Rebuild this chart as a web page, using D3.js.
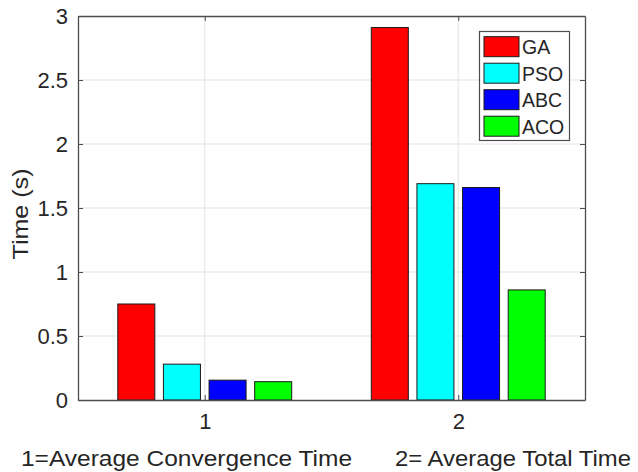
<!DOCTYPE html>
<html>
<head>
<meta charset="utf-8">
<script src="https://cdn.jsdelivr.net/npm/d3@7"></script>
<style>
  html, body { margin: 0; padding: 0; background: #ffffff; }
  svg { display: block; font-family: "Liberation Sans", Arial, sans-serif; }
</style>
</head>
<body>
<svg id="chart" width="638" height="472"></svg>
<script>
const categories = [1, 2];
const seriesNames = ["GA", "PSO", "ABC", "ACO"];
const seriesColors = ["#ff0000", "#00ffff", "#0000ff", "#00ff00"];
const GA  = [0.75, 2.91];
const PSO = [0.28, 1.69];
const ABC = [0.155, 1.66];
const ACO = [0.143, 0.86];
const seriesValues = [GA, PSO, ABC, ACO];
const yTicks = [0, 0.5, 1, 1.5, 2, 2.5, 3];
const yTickLabels = ["0", "0.5", "1", "1.5", "2", "2.5", "3"];
const xTickLabels = ["1", "2"];
const yLabel = "Time (s)";
const footnotes = ["1=Average Convergence Time", "2= Average Total Time"];

const svg = d3.select("#chart");
const L = 78, R = 585, T = 16, B = 400;
const x = d3.scaleLinear().domain([0.5, 2.5]).range([L, R]);
const y = d3.scaleLinear().domain([0, 3]).range([B, T]);
const axisColor = "#4d4d4d";
const textColor = "#262626";

// grid
svg.append("g").selectAll("line.gy").data(yTicks.slice(1, -1)).join("line")
  .attr("x1", L).attr("x2", R).attr("y1", d => y(d)).attr("y2", d => y(d))
  .attr("stroke", "#e3e3e3").attr("stroke-width", 1);
svg.append("g").selectAll("line.gx").data(categories).join("line")
  .attr("x1", d => x(d)).attr("x2", d => x(d)).attr("y1", T).attr("y2", B)
  .attr("stroke", "#e3e3e3").attr("stroke-width", 1);

// bars
const offsets = [-0.27, -0.09, 0.09, 0.27];
const bw = 0.146;
seriesValues.forEach((vals, si) => {
  svg.append("g").selectAll("rect").data(vals).join("rect")
    .attr("x", (d, i) => x(categories[i] + offsets[si] - bw / 2))
    .attr("width", x(bw) - x(0))
    .attr("y", d => y(d))
    .attr("height", d => y(0) - y(d))
    .attr("fill", seriesColors[si])
    .attr("stroke", "#1a1a1a").attr("stroke-width", 1);
});

// axes box
const yAxisL = d3.axisLeft(y).tickValues(yTicks).tickFormat((d, i) => yTickLabels[i]).tickSizeInner(-5).tickSizeOuter(0).tickPadding(10);
const gL = svg.append("g").attr("transform", `translate(${L},0)`).call(yAxisL);
const yAxisR = d3.axisRight(y).tickValues(yTicks).tickFormat("").tickSizeInner(-5).tickSizeOuter(0);
const gR = svg.append("g").attr("transform", `translate(${R},0)`).call(yAxisR);
const xAxisB = d3.axisBottom(x).tickValues(categories).tickFormat((d, i) => xTickLabels[i]).tickSizeInner(-5).tickSizeOuter(0).tickPadding(13);
const gB = svg.append("g").attr("transform", `translate(0,${B})`).call(xAxisB);
const xAxisT = d3.axisTop(x).tickValues(categories).tickFormat("").tickSizeInner(-5).tickSizeOuter(0);
const gT = svg.append("g").attr("transform", `translate(0,${T})`).call(xAxisT);
[gL, gR, gB, gT].forEach(g => {
  g.selectAll(".domain").attr("stroke", axisColor).attr("stroke-width", 1.3);
  g.selectAll(".tick line").attr("stroke", axisColor).attr("stroke-width", 1);
  g.selectAll(".tick text").attr("fill", textColor).attr("font-size", 22)
    .attr("font-family", "'Liberation Sans', Arial, sans-serif");
});
gL.selectAll(".tick text").attr("dy", "0.36em");
gB.selectAll(".tick text").attr("dy", "0.71em");

// y label
svg.append("text")
  .attr("transform", "translate(28,214) rotate(-90)")
  .attr("text-anchor", "middle")
  .attr("font-size", 22).attr("fill", textColor)
  .attr("textLength", 91).attr("lengthAdjust", "spacingAndGlyphs")
  .text(yLabel);

// legend
const lg = svg.append("g");
lg.append("rect").attr("x", 479.5).attr("y", 31.5).attr("width", 90).attr("height", 109)
  .attr("fill", "#ffffff").attr("stroke", axisColor).attr("stroke-width", 1.2);
seriesNames.forEach((name, i) => {
  const ry = 36.7 + i * 26.5;
  lg.append("rect").attr("x", 484).attr("y", ry).attr("width", 35).attr("height", 20)
    .attr("fill", seriesColors[i]).attr("stroke", "#1a1a1a").attr("stroke-width", 1);
  lg.append("text").attr("x", 522).attr("y", ry + 17.5)
    .attr("font-size", 19.5).attr("fill", textColor).text(name);
});

// footnotes
svg.append("text").attr("x", 21).attr("y", 466).attr("font-size", 22).attr("fill", textColor)
  .attr("textLength", 331).attr("lengthAdjust", "spacingAndGlyphs").text(footnotes[0]);
svg.append("text").attr("x", 395).attr("y", 466).attr("font-size", 22).attr("fill", textColor)
  .attr("textLength", 236).attr("lengthAdjust", "spacingAndGlyphs").text(footnotes[1]);
</script>
</body>
</html>
